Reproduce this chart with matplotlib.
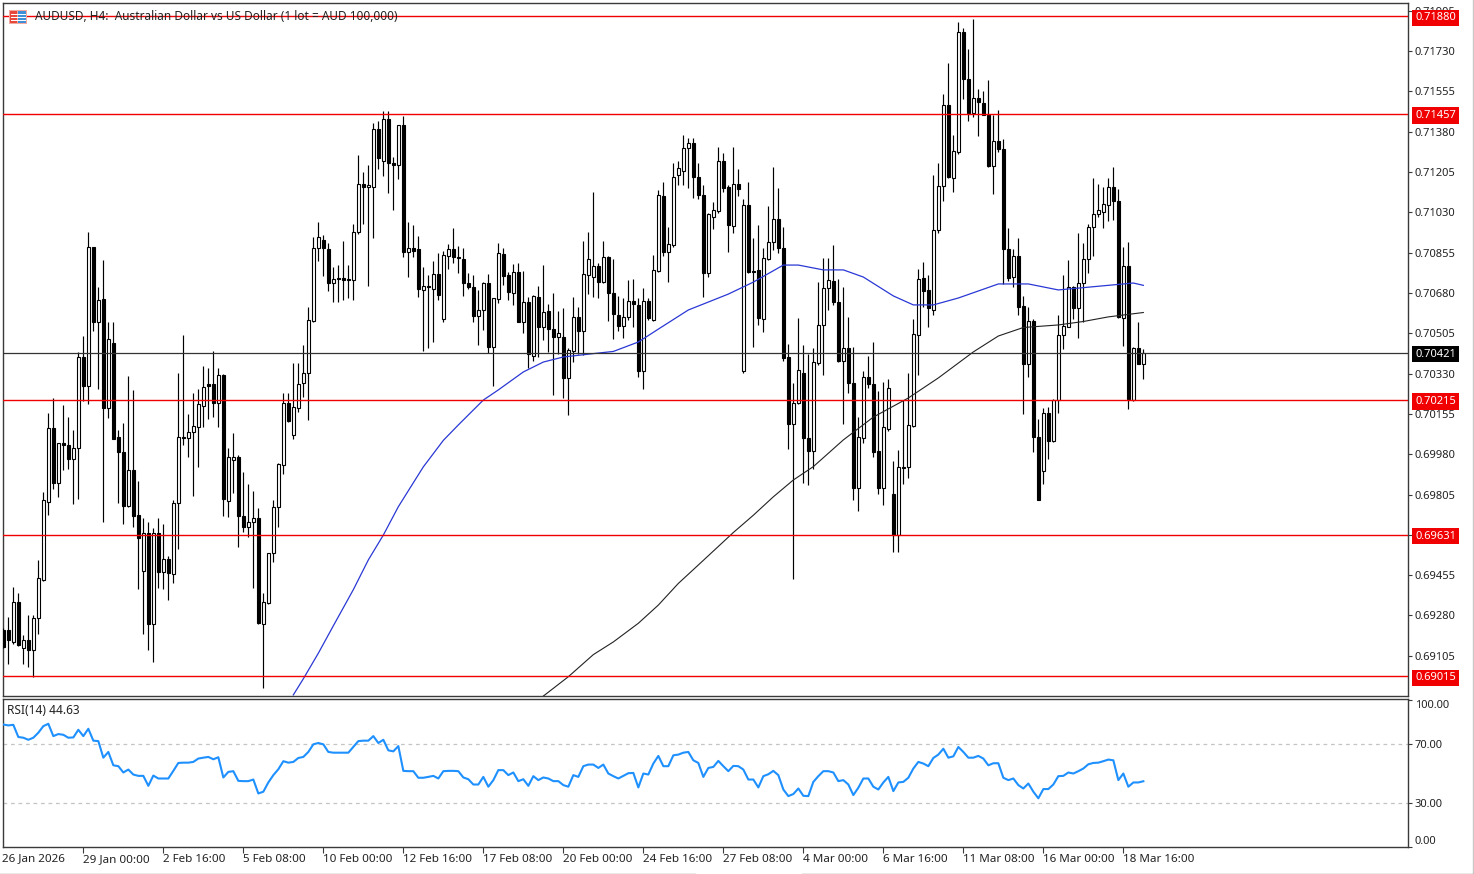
import matplotlib
matplotlib.use('Agg')
import matplotlib.pyplot as plt
from matplotlib.lines import Line2D
from matplotlib.patches import Rectangle

# prices are in points (1e-5)
highs = [69224,69274,69404,69378,69195,69281,69281,69520,69817,70157,
70222,70030,70193,70140,70085,70425,70493,70943,70880,70704,
70823,70555,70552,70087,70114,70319,70258,69863,69705,69687,
69658,69701,69679,69538,69781,70331,70497,70154,70244,70265,
70362,70352,70429,70355,70328,70005,70070,69976,69901,69850,
69820,69745,69376,69553,69781,69940,70244,70244,70374,70374,
70453,70617,70924,70986,70931,70898,70793,70801,70906,70801,
70979,71278,71206,71235,71419,71427,71469,71469,71271,71408,
71448,70986,70974,70927,70791,70757,70817,70854,70863,70892,
70964,70883,70873,70765,70757,70692,70728,70762,70660,70898,
70873,70772,70805,70808,70775,70663,70671,70710,70801,70631,
70678,70602,70613,70439,70663,70617,70907,70943,71120,70809,
70907,70841,70826,70667,70657,70734,70739,70657,70700,70657,
70845,71127,71163,70968,71243,71254,71366,71351,71351,71243,
71149,71029,71076,71315,71286,71149,71315,71218,71087,71163,
70917,70975,70874,71058,71226,71137,70968,70459,70288,70570,
70454,70414,70440,70729,70831,70831,70888,70739,70707,70577,
70447,70140,70339,70405,70469,70256,70294,70306,69951,69997,
70214,70332,70568,70784,70814,70758,71192,71246,71542,71680,
71367,71855,71832,71740,71870,71565,71558,71603,71451,71474,
71348,70964,70872,70918,70667,70621,70568,70134,70179,70187,
70221,70583,70758,70824,70712,70941,70895,70979,71180,71154,
71139,71180,71227,71131,70880,70903,70446,70553,70438]

opens = [69216,69216,69166,69339,69140,69173,69130,69271,69436,69773,
70095,69853,70030,70018,69957,70005,70400,70278,70878,70555,
70653,70179,70464,70053,69991,69756,69911,69716,69474,69639,
69245,69639,69470,69525,69459,69769,70056,70051,70077,70099,
70189,70284,70284,70203,70323,69778,69954,69969,69713,69665,
69687,69704,69245,69336,69549,69752,69933,70203,70063,70179,
70287,70333,70559,70876,70909,70870,70724,70746,70746,70740,
70736,70945,71152,71138,71141,71391,71254,71435,71245,71235,
71408,70859,70876,70870,70692,70712,70695,70762,70569,70841,
70870,70834,70827,70724,70707,70581,70608,70725,70446,70652,
70851,70757,70681,70772,70555,70639,70407,70663,70533,70601,
70523,70490,70487,70309,70429,70576,70516,70758,70751,70799,
70729,70838,70679,70585,70537,70577,70647,70628,70339,70647,
70563,70777,71101,70859,70888,71192,71211,71308,71333,71185,
71105,70768,71011,71037,71254,71139,70972,71153,70343,71062,
70777,70780,70566,70826,70903,71001,70877,70401,70111,70201,
70334,70052,69996,70378,70541,70700,70732,70642,70386,70443,
70291,69835,70050,70313,70286,69992,69834,70088,69806,69631,
69924,69925,70103,70499,70743,70693,70606,70952,71146,71497,
71177,71291,71814,71608,71459,71527,71504,71454,71233,71341,
71303,70869,70751,70839,70624,70370,70560,70053,69905,70157,
70038,70214,70499,70530,70705,70613,70725,70827,70968,71022,
71032,71063,71142,71078,70571,70799,70217,70441,70370]

closes = [69144,69173,69339,69151,69173,69130,69271,69444,69781,70095,
69853,70027,70018,69957,70005,70400,70278,70878,70555,70649,
70179,70480,70048,69991,69756,69911,69713,69617,69639,69245,
69639,69470,69525,69465,69769,70056,70051,70077,70102,70197,
70273,70278,70203,70323,69784,69966,69966,69713,69665,69687,
69704,69248,69339,69553,69752,69937,70203,70125,70183,70284,
70333,70562,70877,70921,70873,70724,70740,70740,70736,70736,
70945,71152,71138,71148,71391,71264,71435,71245,71235,71408,
70859,70876,70863,70695,70712,70704,70762,70673,70844,70870,
70834,70833,70724,70707,70581,70608,70725,70446,70659,70854,
70754,70685,70772,70555,70639,70414,70666,70533,70598,70523,
70490,70508,70309,70432,70576,70516,70762,70828,70799,70729,
70838,70681,70587,70538,70577,70647,70632,70343,70647,70570,
70780,71105,70859,70893,71185,71224,71311,71333,71182,71105,
70768,71021,71040,71254,71134,70975,71153,71131,71062,70773,
70773,70570,70830,70903,71001,70877,70396,70111,70204,70346,
70052,69996,70382,70541,70703,70736,70642,70385,70443,70288,
69835,70053,70313,70283,69989,69834,70096,70268,69631,69924,
69920,70106,70502,70740,70690,70613,70952,71146,71497,71185,
71294,71814,71608,71459,71527,71509,71454,71230,71341,71303,
70869,70743,70839,70621,70370,70560,70053,69783,70157,70038,
70214,70499,70537,70705,70613,70725,70827,70968,71022,71040,
71067,71142,71078,70575,70799,70221,70441,70373,70421]

lows = [69137,69069,69158,69147,69069,69057,69011,69199,69431,69718,
69827,69795,69911,69914,69763,69784,70210,70200,70516,70265,
69687,70135,70044,69766,69675,69752,69665,69393,69198,69132,
69079,69397,69393,69349,69419,69567,70019,69969,69799,69925,
70099,70131,70140,70099,69713,69708,69810,69578,69643,69619,
69397,69242,68963,69329,69513,69662,69896,70121,70048,70164,
70229,70128,70555,70820,70753,70689,70642,70642,70649,70656,
70649,70934,70979,70711,70917,71216,71187,71112,71042,71173,
70837,70750,70837,70663,70429,70443,70466,70649,70555,70786,
70808,70765,70668,70699,70555,70456,70519,70420,70278,70637,
70714,70649,70627,70555,70504,70352,70384,70403,70475,70425,
70236,70417,70222,70150,70381,70417,70411,70676,70664,70657,
70722,70556,70479,70516,70483,70563,70531,70314,70262,70563,
70556,70773,70841,70729,70878,71149,71149,71134,71094,71087,
70664,70748,70956,71029,71120,70859,70939,71101,70331,70765,
70447,70541,70512,70823,70867,70852,70386,70001,69437,70198,
69854,69847,69915,70367,70324,70606,70628,70382,70111,70244,
69781,69735,70027,70266,69966,69806,69761,70080,69555,69555,
69852,69875,70096,70324,70621,70530,70586,70941,71078,71177,
71116,71284,71520,71428,71443,71363,71451,71226,71108,71291,
70720,70732,70705,70583,70153,70316,69989,69779,69852,69959,
70035,70160,70438,70530,70568,70484,70553,70766,70842,71009,
70961,70994,70997,70571,70449,70175,70210,70370,70306]

rsi = [83.3,82.7,83.1,74.8,74.3,72.9,74.3,77.7,82.2,83.8,
75.4,76.8,76.3,74.3,74.5,79.7,75.4,80.4,72.3,72.0,
60.7,64.6,55.5,54.9,50.6,52.6,49.2,48.3,48.3,41.5,
48.5,46.5,46.5,46.5,51.7,57.1,57.3,57.3,57.8,60.1,
60.7,61.2,59.6,61.0,47.2,51.0,51.5,44.9,44.7,44.7,
45.8,36.3,37.5,43.8,48.8,52.8,58.3,57.3,57.8,60.5,
61.2,64.6,69.8,70.7,69.8,64.6,64.1,64.1,64.1,64.1,
68.0,72.0,72.3,72.3,75.4,70.7,72.9,65.7,65.0,68.6,
51.7,51.5,51.5,47.0,47.0,47.6,48.3,46.5,51.5,51.7,
51.7,51.5,47.2,46.0,42.4,42.4,47.6,40.9,45.4,52.2,
52.2,48.8,50.6,44.7,46.0,41.5,48.1,45.4,47.2,46.5,
44.7,44.7,42.0,40.9,48.8,47.6,54.9,56.0,56.0,53.7,
56.0,49.9,48.1,46.5,48.3,50.1,50.3,40.4,49.9,49.2,
56.7,61.9,54.9,54.9,62.3,62.8,64.1,64.6,58.9,57.1,
47.6,53.7,54.4,58.5,54.9,51.5,55.1,54.9,52.6,45.8,
45.8,40.4,48.1,49.4,51.7,48.8,39.0,34.5,35.9,39.7,
34.7,34.5,44.2,48.1,51.5,51.5,50.6,44.7,45.4,42.4,
35.2,40.2,46.5,46.5,40.9,39.0,43.8,47.6,37.9,43.8,
44.2,47.0,53.3,57.8,56.7,54.9,60.5,62.8,66.8,60.7,
61.6,68.0,64.6,60.7,60.7,61.9,60.1,55.5,56.9,56.9,
47.0,45.4,46.5,42.0,39.7,43.1,37.5,33.0,39.3,39.3,
42.4,48.1,48.3,50.6,49.9,51.5,53.3,56.2,57.1,57.3,
58.3,59.4,58.9,45.4,49.9,40.9,43.8,43.8,44.63]

# moving averages, read at the bars given in *_bars
blue_bars = [58,60,63,66,70,73,76,79,82,84,88,91,96,99,104,108,112,119,122,127,131,137,145,150,
             156,159,164,168,172,178,182,186,191,199,205,211,215,221,226,228]
blue_ma = [68935,69005,69116,69235,69392,69521,69629,69752,69856,69925,70040,70107,70215,70259,
           70337,70380,70402,70419,70426,70467,70523,70606,70675,70727,70801,70801,70780,70780,
           70749,70667,70628,70628,70658,70719,70719,70693,70701,70713,70723,70713]
black_bars = [108,113,118,122,127,131,135,139,146,150,154,158,162,168,174,181,187,194,199,204,
              211,216,221,228]
black_ma = [68930,69014,69110,69165,69246,69325,69419,69499,69640,69715,69795,69868,69926,70042,
            70141,70224,70311,70424,70493,70530,70541,70556,70576,70595]

red_levels = [71880, 71457, 70215, 69631, 69015]
last_price = 70421
price_ticks = [71905,71730,71555,71380,71205,71030,70855,70680,70505,70330,70155,69980,
               69805,69630,69455,69280,69105]
rsi_ticks = [100, 70, 30, 0]
date_bars = [16,32,48,64,80,96,112,128,144,160,176,192,208,224]
date_labels = ['29 Jan 00:00','2 Feb 16:00','5 Feb 08:00','10 Feb 00:00','12 Feb 16:00',
               '17 Feb 08:00','20 Feb 00:00','24 Feb 16:00','27 Feb 08:00','4 Mar 00:00',
               '6 Mar 16:00','11 Mar 08:00','16 Mar 00:00','18 Mar 16:00']

W, H = 1474, 874
FRAME = '#3a3a3a'
TXT = '#222222'
plt.rcParams['font.family'] = ['Noto Sans', 'DejaVu Sans']
plt.rcParams['font.size'] = 8


def add_panel(top, bottom):
    ax = fig.add_axes([3 / W, 1 - bottom / H, 1405 / W, (bottom - top) / H])
    for s in ax.spines.values():
        s.set_color(FRAME)
        s.set_linewidth(1.0)
    ax.yaxis.tick_right()
    ax.tick_params(axis='y', length=3, width=0.8, color=FRAME, labelcolor=TXT, pad=2, labelsize=8)
    ax.set_xlim(-0.066, 280.93)
    return ax


def px_rect(x, y, w, h, color):
    fig.add_artist(Rectangle((x / W, 1 - (y + h) / H), w / W, h / H, transform=fig.transFigure,
                             fc=color, ec='none', zorder=5))


def price_label(ax, value, color):
    ax.text(1.0052, value / 1e5, '%.5f' % (value / 1e5), transform=ax.get_yaxis_transform(),
            color='white', va='center_baseline', ha='left', fontsize=8, clip_on=False, zorder=8,
            bbox=dict(fc=color, ec='none', boxstyle='square,pad=0.26'))


fig = plt.figure(figsize=(W / 100, H / 100), dpi=100)
ax = add_panel(3, 696)
ax.set_ylim(0.689303, 0.719386)
ax.set_xticks([])
ax.set_yticks([t / 1e5 for t in price_ticks])
ax.set_yticklabels(['%.5f' % (t / 1e5) for t in price_ticks])

bars = range(len(closes))
ax.vlines(bars, [v / 1e5 for v in lows], [v / 1e5 for v in highs], color='black', lw=0.85, zorder=3)
for i in bars:
    o, c = opens[i] / 1e5, closes[i] / 1e5
    ax.bar(i, abs(c - o), bottom=min(o, c), width=0.62, fc='white' if c > o else 'black',
           ec='black', lw=0.8, zorder=4)

ax.plot(blue_bars, [v / 1e5 for v in blue_ma], color='#2a38d4', lw=0.9, zorder=5)
ax.plot(black_bars, [v / 1e5 for v in black_ma], color='#222222', lw=0.8, zorder=5)

for lev in red_levels:
    ax.axhline(lev / 1e5, color='#f00000', lw=1.0, zorder=6)
    price_label(ax, lev, '#f00000')
ax.axhline(last_price / 1e5, color='#333333', lw=0.9, zorder=6)
price_label(ax, last_price, 'black')

fig.text(35 / W, 1 - 16.5 / H, 'AUDUSD, H4:  Australian Dollar vs US Dollar (1 lot = AUD 100,000)',
         color=TXT, va='center', ha='left', fontsize=8.5, zorder=4)

# symbol icon
px_rect(9, 10, 18, 14, '#f4a9a0')
px_rect(10, 11, 7, 12, '#e8483c')
px_rect(18, 11, 8, 12, '#3f8fd8')
for yy in (14, 17, 20):
    px_rect(11, yy, 15, 1, 'white')

rax = add_panel(699, 847)
rax.set_ylim(-0.2, 100.7)
rax.set_yticks(rsi_ticks)
rax.set_yticklabels(['%.2f' % t for t in rsi_ticks])
rax.get_yticklabels()[0].set_va('top')
rax.get_yticklabels()[3].set_va('bottom')
for lev in (70, 30):
    rax.axhline(lev, color='#c4c4c4', lw=0.9, ls=(0, (3, 3)), zorder=1)
rax.plot(bars, rsi, color='#1e90ff', lw=1.5, zorder=3)
rax.text(4 / 1405, 0.925, 'RSI(14) 44.63', transform=rax.transAxes, color=TXT, va='center', ha='left', fontsize=8.6)

rax.set_xticks(date_bars)
rax.set_xticklabels(date_labels, ha='left')
rax.tick_params(axis='x', length=4, width=0.8, color=FRAME, labelcolor=TXT, pad=1, labelsize=8.4)
fig.text(2 / W, 1 - 858.5 / H, '26 Jan 2026', color=TXT, va='center', ha='left', fontsize=8.4)

# window edges
fig.add_artist(Line2D([1473 / W, 1473 / W], [0, 1], color='#c8c8c8', lw=1))
fig.add_artist(Line2D([0, 695 / W], [0.5 / H, 0.5 / H], color='#909090', lw=1))
fig.add_artist(Line2D([802 / W, 1], [0.5 / H, 0.5 / H], color='#909090', lw=1))

fig.savefig('out.png', dpi=100)
